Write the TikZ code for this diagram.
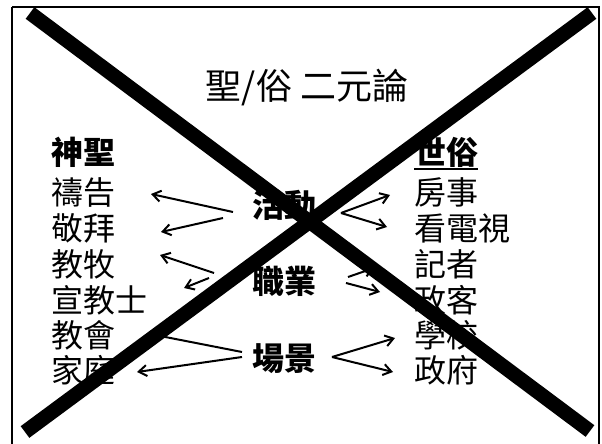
\documentclass[tikz,border=0pt]{standalone}
\usepackage{fontspec}
\setmainfont{Noto Sans CJK TC}
\usetikzlibrary{arrows.meta}
\tikzset{
  item/.style={anchor=west, inner sep=0pt, font=\fontsize{32}{36}\selectfont},
  head/.style={anchor=west, inner sep=0pt, font=\fontsize{32}{36}\selectfont\bfseries},
  mid/.style={anchor=center, inner sep=0pt, font=\fontsize{32}{36}\selectfont\bfseries},
  titlebox/.style={anchor=center, inner sep=0pt, font=\fontsize{36}{40}\selectfont},
  arr/.style={line width=2pt, -{Straight Barb[length=8pt,width=11pt]}},
  bar/.style={line width=14.5pt, line cap=butt},
  frame/.style={line width=2pt}
}
\begin{document}
\begin{tikzpicture}[x=1pt,y=-1pt]
\useasboundingbox (0,0) rectangle (602,444);
\fill[white] (0,0) rectangle (602,444);
\draw[frame] (12,7) -- (599,7) -- (599,460) (12,7) -- (12,460);

\node[titlebox] (title) at (307,88) {聖/俗 二元論};

\node[head] (sacred) at (51,152) {神聖};
\node[head] (profane) at (414,152) {世俗};
\draw[line width=2pt] (profane.south west) ++(0,2) coordinate (ul1) -- (ul1 -| profane.east);

\node[item] (l1) at (51,192) {禱告};
\node[item] (l2) at (51,228) {敬拜};
\node[item] (l3) at (51,264) {教牧};
\node[item] (l4) at (51,300) {宣教士};
\node[item] (l5) at (51,335) {教會};
\node[item] (l6) at (51,370) {家庭};

\node[item] (r1) at (414,192) {房事};
\node[item] (r2) at (414,228) {看電視};
\node[item] (r3) at (414,264) {記者};
\node[item] (r4) at (414,300) {政客};
\node[item] (r5) at (414,335) {學校};
\node[item] (r6) at (414,370) {政府};

\node[mid] (act) at (284,205) {活動};
\node[mid] (job) at (284,281) {職業};
\node[mid] (scene) at (284,359) {場景};

% connector end points
\coordinate (aL1) at (233,212); \coordinate (tL1) at (151,194);
\coordinate (aL2) at (223,218); \coordinate (tL2) at (161,232);
\coordinate (bL1) at (214,273); \coordinate (uL1) at (160,255);
\coordinate (bL2) at (209,278); \coordinate (uL2) at (184,288);
\coordinate (cL1) at (242,352); \coordinate (vL1) at (150,334);
\coordinate (cL2) at (242,357); \coordinate (vL2) at (137,372);
\coordinate (aR) at (341,213); \coordinate (tR1) at (390,195); \coordinate (tR2) at (387,227);
\coordinate (bR1) at (348,277); \coordinate (uR1) at (374,268);
\coordinate (bR2) at (346,283); \coordinate (uR2) at (380,292);
\coordinate (cR) at (332,357); \coordinate (vR1) at (395,338); \coordinate (vR2) at (393,372);

\draw[arr] (aL1) -- (tL1);
\draw[arr] (aL2) -- (tL2);
\draw[arr] (bL1) -- (uL1);
\draw[arr] (bL2) -- (uL2);
\draw[arr] (cL1) -- (vL1);
\draw[arr] (cL2) -- (vL2);
\draw[arr] (aR) -- (tR1);
\draw[arr] (aR) -- (tR2);
\draw[arr] (bR1) -- (uR1);
\draw[arr] (bR2) -- (uR2);
\draw[arr] (cR) -- (vR1);
\draw[arr] (cR) -- (vR2);

% big cross
\coordinate (x1a) at (30,13); \coordinate (x1b) at (590,431);
\coordinate (x2a) at (592,13); \coordinate (x2b) at (25,432);
\draw[bar] (x1a) -- (x1b);
\draw[bar] (x2a) -- (x2b);
\end{tikzpicture}
\end{document}
